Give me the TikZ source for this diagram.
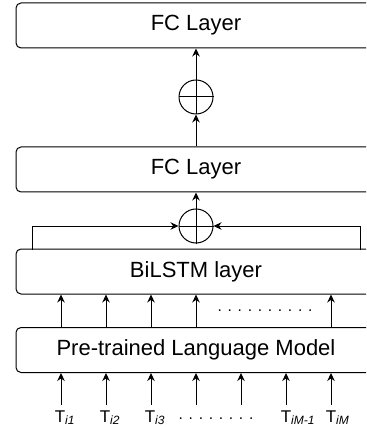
\documentclass[tikz,border=0pt]{standalone}
\usepackage{fontspec}
\setmainfont{Liberation Sans}
\usetikzlibrary{arrows.meta}
\begin{document}
\begin{tikzpicture}[x=1pt,y=-1pt,line width=1pt,
  layer/.style={draw,rounded corners=5pt,minimum width=360pt,minimum height=45pt,inner sep=0pt,font=\fontsize{22}{26}\selectfont},
  arr/.style={-{Stealth[length=8pt,width=7.5pt]}},
  sumnode/.style={circle,draw,minimum size=34pt,inner sep=0pt},
  tok/.style={anchor=base,inner sep=0pt,font=\fontsize{17}{20}\selectfont},
  dotrow/.style={anchor=base,inner sep=0pt,font=\fontsize{15.5}{18}\selectfont}]
\useasboundingbox (0,0) rectangle (366,427);
\clip (0,0) rectangle (366,427);
\node[layer] (fc1) at (196,25.5) {FC Layer};
\node[layer] (fc2) at (196,169.5) {FC Layer};
\node[layer] (lstm) at (196,271.5) {BiLSTM layer};
\node[layer] (plm) at (196,350) {Pre-trained Language Model};
% upper sum
\node[sumnode] (s1) at (196,97) {};
\draw (s1.north) -- (s1.south) (s1.west) -- (s1.east);
\draw[arr] (fc2.north) -- (s1.south);
\draw[arr] (s1.north) -- (fc1.south);
% lower sum
\node[sumnode] (s2) at (196,226) {};
\draw (s2.north) -- (s2.south) (s2.west) -- (s2.east);
\draw[arr] (s2.north) -- (fc2.south);
\coordinate (bl) at (32,249.5);
\coordinate (br) at (360,249.5);
\draw[arr] (bl) |- (s2.west);
\draw[arr] (br) |- (s2.east);
% PLM -> BiLSTM
\foreach \x [count=\i] in {61,106,151,196,331} {
  \coordinate (m\i) at (\x,0);
  \draw[arr] (plm.north -| m\i) -- (lstm.south -| m\i);
}
\node[dotrow] (d1) at (265,311) {. . . . . . . . . .};
% tokens
\foreach \x [count=\i] in {61,106,151,196,241,286,331} {
  \coordinate (b\i) at (\x,405);
  \draw[arr] (b\i) -- (plm.south -| b\i);
}
\node[tok] (t1) at (60,422) {T\rlap{\raisebox{-0.3ex}{\fontsize{12}{13}\selectfont\itshape i1}}};
\node[tok] (t2) at (105,422) {T\rlap{\raisebox{-0.3ex}{\fontsize{12}{13}\selectfont\itshape i2}}};
\node[tok] (t3) at (150,422) {T\rlap{\raisebox{-0.3ex}{\fontsize{12}{13}\selectfont\itshape i3}}};
\node[dotrow] (d2) at (216,419) {. . . . . . . .};
\node[tok] (t6) at (286,422) {T\rlap{\raisebox{-0.3ex}{\fontsize{12}{13}\selectfont\itshape iM-1}}};
\node[tok] (t7) at (331,422) {T\rlap{\raisebox{-0.3ex}{\fontsize{12}{13}\selectfont\itshape iM}}};
\end{tikzpicture}
\end{document}
